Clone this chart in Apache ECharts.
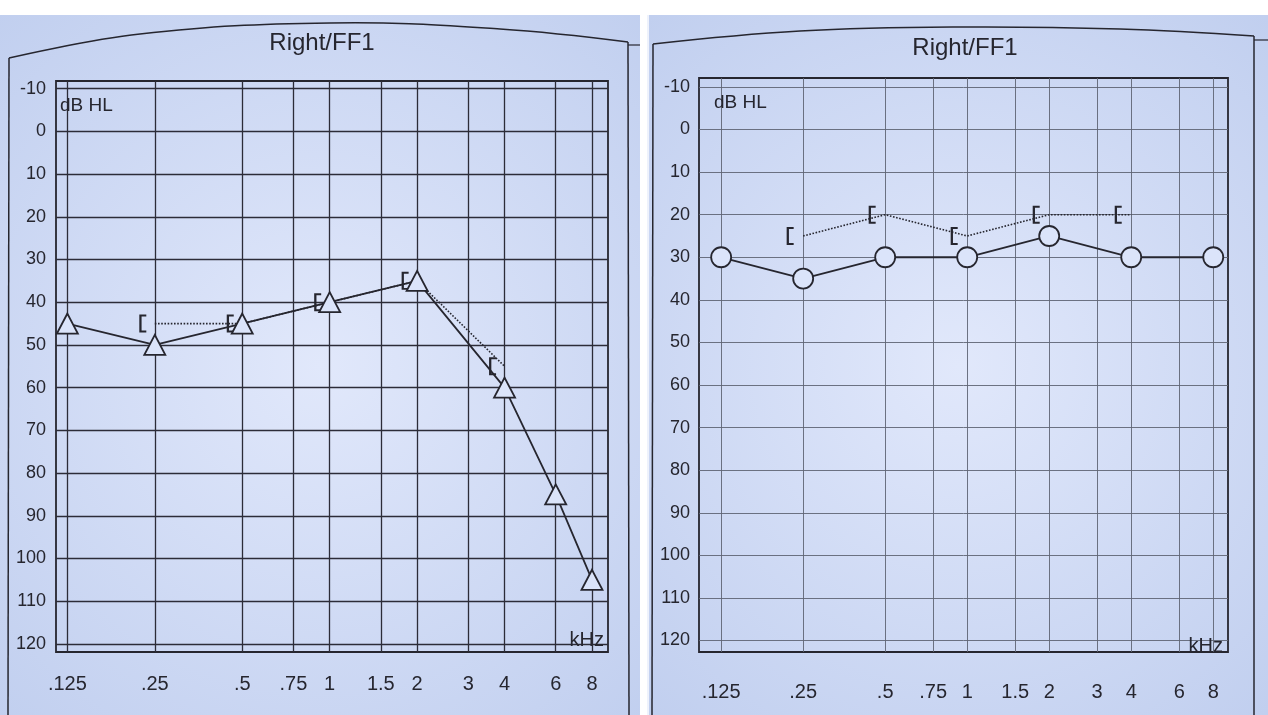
<!DOCTYPE html>
<html><head><meta charset="utf-8">
<script src="https://cdn.jsdelivr.net/npm/echarts@6/dist/echarts.min.js"></script>
<style>html,body{margin:0;padding:0;background:#fff}#c{width:1268px;height:715px}</style>
</head><body><div id="c"></div>
<script>
// ---- data ----
const freqTicks  = [0.125, 0.25, 0.5, 0.75, 1, 1.5, 2, 3, 4, 6, 8];
const freqLabels = ['.125', '.25', '.5', '.75', '1', '1.5', '2', '3', '4', '6', '8'];
const dbTicks    = [-10, 0, 10, 20, 30, 40, 50, 60, 70, 80, 90, 100, 110, 120];

const leftAirFreq  = [0.125, 0.25, 0.5, 1, 2, 4, 6, 8];
const leftAirDb    = [45, 50, 45, 40, 35, 60, 85, 105];
const leftMaskFreq = [0.25, 0.5, 1, 2, 4];
const leftMaskDb   = [45, 45, 40, 35, 55];

const rightAirFreq  = [0.125, 0.25, 0.5, 1, 2, 4, 8];
const rightAirDb    = [30, 35, 30, 30, 25, 30, 30];
const rightMaskFreq = [0.25, 0.5, 1, 2, 4];
const rightMaskDb   = [25, 20, 25, 20, 20];

const panelTitles = ['Right/FF1', 'Right/FF1'];
const yUnit = 'dB HL';
const xUnit = 'kHz';

// ---- styling ----
const FONT = "'Liberation Sans', Arial, sans-serif";
const INK = '#26262f';
const FILL = '#dbe4fa';
const BRACKET = 'path://M0,0 L4,0 L4,1.1 L1.3,1.1 L1.3,8.9 L4,8.9 L4,10 L0,10 Z';

const log2Ticks = freqTicks.map(f => Math.log2(f));
function freqFmt(v) {
  for (let i = 0; i < freqTicks.length; i++) {
    if (Math.abs(log2Ticks[i] - v) < 1e-6) return freqLabels[i];
  }
  return '';
}
function pts(fs, ds) { return fs.map((f, i) => [Math.log2(f), ds[i]]); }

function xAxis(gi, min, max, margin, lineColor, lineWidth) {
  return {
    gridIndex: gi, type: 'value', min: min, max: max,
    axisLine: { show: false },
    axisTick: { show: false, customValues: log2Ticks },
    axisLabel: { customValues: log2Ticks, formatter: freqFmt, margin: margin,
      color: INK, fontSize: 20, fontFamily: FONT },
    splitLine: { show: true, lineStyle: { color: lineColor, width: lineWidth } }
  };
}
function yAxis(gi, min, max, margin, lineColor, lineWidth) {
  return {
    gridIndex: gi, type: 'value', inverse: true, min: min, max: max,
    axisLine: { show: false },
    axisTick: { show: false, customValues: dbTicks },
    axisLabel: { customValues: dbTicks, margin: margin, color: INK, fontSize: 18, fontFamily: FONT },
    splitLine: { show: true, lineStyle: { color: lineColor, width: lineWidth } }
  };
}

const chart = echarts.init(document.getElementById('c'));
const bgGrad = () => ({
  type: 'radial', x: 0.5, y: 0.5, r: 0.75,
  colorStops: [{ offset: 0, color: '#e1e8fb' }, { offset: 1, color: '#c1cfef' }]
});
const frame = { stroke: INK, lineWidth: 1.5, fill: null };

chart.setOption({
  animation: false,
  backgroundColor: '#ffffff',
  graphic: [
    { type: 'rect', z: -10, shape: { x: 0, y: 15, width: 640, height: 700 }, style: { fill: bgGrad() } },
    { type: 'rect', z: -10, shape: { x: 648, y: 15, width: 620, height: 700 }, style: { fill: bgGrad() } },
    // paper frame, left sheet
    { type: 'polyline', z: -5, shape: { points: [[9, 58], [140, 34], [330, 23], [500, 29], [628, 42]], smooth: 0.4 }, style: frame },
    { type: 'line', z: -5, shape: { x1: 9, y1: 58, x2: 8, y2: 715 }, style: frame },
    { type: 'line', z: -5, shape: { x1: 628, y1: 42, x2: 629, y2: 715 }, style: frame },
    { type: 'line', z: -5, shape: { x1: 628, y1: 45, x2: 640, y2: 45 }, style: { stroke: INK, lineWidth: 1.2 } },
    // paper frame, right sheet
    { type: 'polyline', z: -5, shape: { points: [[653, 44], [800, 31], [960, 27], [1120, 29], [1254, 36]], smooth: 0.4 }, style: frame },
    { type: 'line', z: -5, shape: { x1: 653, y1: 44, x2: 652, y2: 715 }, style: frame },
    { type: 'line', z: -5, shape: { x1: 1254, y1: 36, x2: 1254, y2: 715 }, style: frame },
    { type: 'line', z: -5, shape: { x1: 1254, y1: 40, x2: 1268, y2: 40 }, style: { stroke: INK, lineWidth: 1.2 } },
    { type: 'line', z: -5, shape: { x1: 648, y1: 15, x2: 648, y2: 715 }, style: { stroke: '#eef2fc', lineWidth: 2 } },
    // texts
    { type: 'text', z: 10, x: 322, y: 43, style: { text: panelTitles[0], fill: INK, font: "24px " + FONT, textAlign: 'center', textVerticalAlign: 'middle' } },
    { type: 'text', z: 10, x: 965, y: 48, style: { text: panelTitles[1], fill: INK, font: "24px " + FONT, textAlign: 'center', textVerticalAlign: 'middle' } },
    { type: 'text', z: 10, x: 60, y: 106, style: { text: yUnit, fill: INK, font: "19px " + FONT, textAlign: 'left', textVerticalAlign: 'middle' } },
    { type: 'text', z: 10, x: 714, y: 103, style: { text: yUnit, fill: INK, font: "19px " + FONT, textAlign: 'left', textVerticalAlign: 'middle' } },
    { type: 'text', z: 10, x: 604, y: 640, style: { text: xUnit, fill: INK, font: "20px " + FONT, textAlign: 'right', textVerticalAlign: 'middle' } },
    { type: 'text', z: 10, x: 1223, y: 646, style: { text: xUnit, fill: INK, font: "20px " + FONT, textAlign: 'right', textVerticalAlign: 'middle' } }
  ],
  grid: [
    { left: 56, top: 81, width: 552, height: 571, show: true, borderColor: INK, borderWidth: 1.8, backgroundColor: 'transparent' },
    { left: 699, top: 78, width: 529, height: 574, show: true, borderColor: INK, borderWidth: 1.8, backgroundColor: 'transparent' }
  ],
  xAxis: [
    xAxis(0, -3.13, 3.183, 22, '#2c2c38', 1.3),
    xAxis(1, -3.27, 3.18, 30, '#5f6474', 0.9)
  ],
  yAxis: [
    yAxis(0, -11.8, 121.9, 10, '#2c2c38', 1.3),
    yAxis(1, -12.1, 122.7, 9, '#5f6474', 0.9)
  ],
  series: [
    { type: 'line', xAxisIndex: 0, yAxisIndex: 0, data: pts(leftAirFreq, leftAirDb), z: 4,
      symbol: 'triangle', symbolSize: [21, 20],
      itemStyle: { color: FILL, borderColor: INK, borderWidth: 1.8 },
      lineStyle: { color: INK, width: 1.8 } },
    { type: 'line', xAxisIndex: 0, yAxisIndex: 0, data: pts(leftMaskFreq, leftMaskDb), z: 3,
      symbol: BRACKET, symbolSize: [7, 18], symbolOffset: [-12, 0],
      itemStyle: { color: INK },
      lineStyle: { color: INK, width: 1.6, type: 'dotted' } },
    { type: 'line', xAxisIndex: 1, yAxisIndex: 1, data: pts(rightAirFreq, rightAirDb), z: 4,
      symbol: 'circle', symbolSize: 20,
      itemStyle: { color: FILL, borderColor: INK, borderWidth: 1.8 },
      lineStyle: { color: INK, width: 1.8 } },
    { type: 'line', xAxisIndex: 1, yAxisIndex: 1, data: pts(rightMaskFreq, rightMaskDb), z: 3,
      symbol: BRACKET, symbolSize: [7, 18], symbolOffset: [-13, 0],
      itemStyle: { color: INK },
      lineStyle: { color: INK, width: 1.6, type: 'dotted' } }
  ]
});
</script></body></html>
